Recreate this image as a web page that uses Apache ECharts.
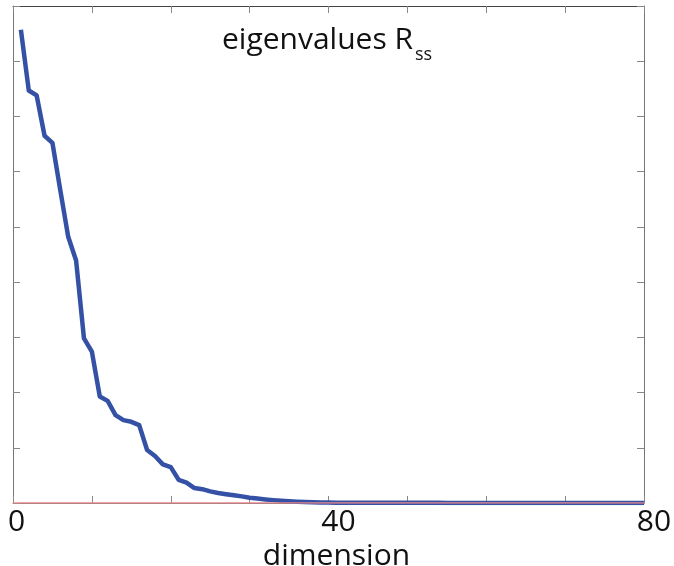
<!DOCTYPE html>
<html>
<head>
<meta charset="utf-8">
<script src="https://cdn.jsdelivr.net/npm/echarts@6/dist/echarts.min.js"></script>
<style>html,body{margin:0;padding:0;background:#fff;}#c{width:674px;height:566px;}</style>
</head>
<body>
<div id="c"></div>
<script>
var dims = [];
for (var i = 1; i <= 80; i++) dims.push(i);
var eigenvalues = [
  8.57, 7.47, 7.38, 6.65, 6.52, 5.66, 4.82, 4.39, 2.98, 2.74,
  1.93, 1.85, 1.59, 1.50, 1.47, 1.41, 0.96, 0.85, 0.70, 0.65,
  0.42, 0.37, 0.27, 0.25, 0.21, 0.18, 0.16, 0.14, 0.12, 0.095,
  0.08, 0.065, 0.052, 0.04, 0.03, 0.022, 0.016, 0.012, 0.009, 0.007,
  0.006, 0.006, 0.005, 0.005, 0.005, 0.004, 0.004, 0.004, 0.004, 0.003,
  0.003, 0.003, 0.003, 0.003, 0.002, 0.002, 0.002, 0.002, 0.002, 0.002,
  0.002, 0.002, 0.001, 0.001, 0.001, 0.001, 0.001, 0.001, 0.001, 0.001,
  0.001, 0.001, 0.001, 0.001, 0.001, 0.001, 0.001, 0.001, 0.001, 0.001
];
var zeroX = [0, 80];
var zeroY = [0, 0];
var xTickLabels = [0, 40, 80];

var blueData = dims.map(function (d, i) { return [d, eigenvalues[i]]; });
var redData = zeroX.map(function (x, i) { return [x, zeroY[i]]; });

var font = '"Open Sans", sans-serif';
var chart = echarts.init(document.getElementById('c'), null, {renderer: 'canvas'});
chart.setOption({
  animation: false,
  backgroundColor: '#fff',
  title: {
    text: '{a|eigenvalues R}{b|ss}',
    left: 222, top: 25, padding: 0,
    textStyle: {
      fontWeight: 'normal',
      rich: {
        a: {fontFamily: font, fontSize: 30, fontWeight: 'normal', lineHeight: 30, color: '#111', verticalAlign: 'top'},
        b: {fontFamily: font, fontSize: 18, fontWeight: 'normal', lineHeight: 18, color: '#111', verticalAlign: 'top', padding: [21, 0, 0, 2]}
      }
    }
  },
  grid: {left: 13, top: 6, right: 30, bottom: 63, containLabel: false, outerBoundsMode: 'none'},
  xAxis: [{
    type: 'value', min: 0, max: 80, interval: 10, position: 'bottom',
    name: 'dimension', nameLocation: 'middle', nameGap: 30,
    nameTextStyle: {fontFamily: font, fontSize: 30, color: '#111', padding: [0, 0, 0, 16]},
    axisLine: {show: true, lineStyle: {color: '#777', width: 1}},
    axisTick: {show: true, inside: true, length: 7, lineStyle: {color: '#888'}},
    splitLine: {show: false},
    axisLabel: {
      margin: 4, fontFamily: font, fontSize: 30, color: '#111',
      formatter: function (v) {
        if (xTickLabels.indexOf(v) < 0) return '';
        return v === 0 ? '{z|' + v + '}' : '{n|' + v + '}';
      },
      rich: {
        z: {fontFamily: font, fontSize: 30, color: '#111', padding: [0, 0, 0, 7]},
        n: {fontFamily: font, fontSize: 30, color: '#111', padding: [0, 0, 0, 20]}
      }
    }
  }, {
    type: 'value', min: 0, max: 80, interval: 10, position: 'top',
    axisLine: {show: true, onZero: false, lineStyle: {color: '#444', width: 1}},
    axisTick: {show: true, inside: true, length: 7, lineStyle: {color: '#888'}},
    axisLabel: {show: false}, splitLine: {show: false}
  }],
  yAxis: [{
    type: 'value', min: 0, max: 9, interval: 1, position: 'left',
    axisLine: {show: true, onZero: false, lineStyle: {color: '#777', width: 1}},
    axisTick: {show: true, inside: true, length: 7, lineStyle: {color: '#888'}},
    axisLabel: {show: false}, splitLine: {show: false}
  }, {
    type: 'value', min: 0, max: 9, interval: 1, position: 'right',
    axisLine: {show: true, onZero: false, lineStyle: {color: '#777', width: 1}},
    axisTick: {show: true, inside: true, length: 7, lineStyle: {color: '#888'}},
    axisLabel: {show: false}, splitLine: {show: false}
  }],
  series: [{
    type: 'line', data: blueData, xAxisIndex: 0, yAxisIndex: 0,
    showSymbol: false, symbol: 'none',
    lineStyle: {color: '#3451a6', width: 4.5, join: 'round'},
    z: 3
  }, {
    type: 'line', data: redData, xAxisIndex: 0, yAxisIndex: 0,
    showSymbol: false, symbol: 'none',
    lineStyle: {color: '#e8878a', width: 1.5},
    z: 4
  }]
});
</script>
</body>
</html>
